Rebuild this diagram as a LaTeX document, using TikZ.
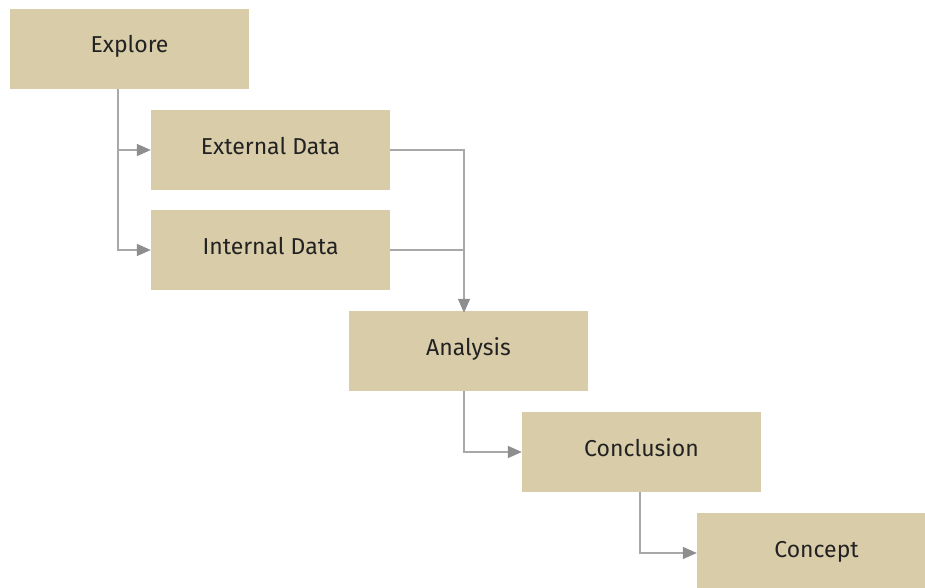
\documentclass[tikz,border=0pt]{standalone}
\usepackage{fontspec}
\setmainfont{Fira Sans}
\usetikzlibrary{arrows.meta}
\definecolor{boxfill}{HTML}{D9CCA9}
\definecolor{linec}{HTML}{A8A8A8}
\definecolor{arrowc}{HTML}{8E8E90}
\definecolor{textc}{HTML}{222222}
\begin{document}
\begin{tikzpicture}[x=1pt,y=-1pt,
  stage/.style={rectangle, fill=boxfill, draw=none, minimum width=239pt, minimum height=80pt, inner sep=0pt, text height=16pt, text depth=8pt, text=textc, font=\fontsize{23}{26}\selectfont},
  link/.style={draw=linec, line width=1.5pt, -{Triangle[length=14pt,width=12pt,color=arrowc]}},
  joinline/.style={draw=linec, line width=1.5pt}]
\useasboundingbox (0,0) rectangle (925,588);
\clip (0,0) rectangle (925,588);
\fill[white] (0,0) rectangle (925,588);
\node[stage] (explore) at (129.5,49) {Explore};
\node[stage] (external) at (270.5,150) {External Data};
\node[stage] (internal) at (270.5,250) {Internal Data};
\node[stage] (analysis) at (468.5,351) {Analysis};
\node[stage] (conclusion) at (641.5,452) {Conclusion};
\node[stage] (concept) at (816.5,553) {Concept};
\draw[link] ([xshift=-11.5pt]explore.south) |- (external.west);
\draw[link] ([xshift=-11.5pt]explore.south) |- (internal.west);
\draw[joinline] (internal.east) -| ([xshift=-4.5pt]analysis.north);
\draw[link] (external.east) -| ([xshift=-4.5pt,yshift=-2pt]analysis.north);
\draw[link] ([xshift=-4.5pt]analysis.south) |- (conclusion.west);
\draw[link] ([xshift=-1.5pt]conclusion.south) |- (concept.west);
\end{tikzpicture}
\end{document}
